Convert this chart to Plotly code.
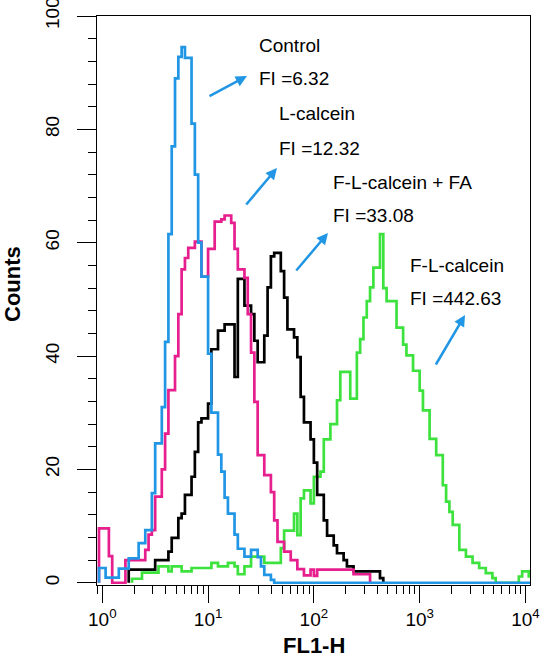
import plotly.graph_objects as go

# ---------------- data ----------------
BINS_PER_DECADE = 32          # histogram channels per decade of FL1-H

series_names = ["Control", "L-calcein", "F-L-calcein + FA", "F-L-calcein"]
fi_values = ["6.32", "12.32", "33.08", "442.63"]

# first channel index of each histogram (channel k starts at 10**(k/32))
control_start = -1
control_counts = [
    2.6, 2.6, 0.9, 0.9, 0.9, 0.9, 2.5, 2.5, 2.5, 4.3,
    4.3, 4.3, 7.0, 7.0, 9.3, 9.3, 15.8, 24.6, 24.6, 31.0,
    42.5, 61.5, 77.0, 89.0, 92.8, 94.5, 92.6, 92.6, 81.0, 72.0,
    60.0, 54.0, 54.0, 40.4, 30.0, 30.0, 22.6, 19.6, 15.0, 12.2,
    12.2, 8.5, 6.0, 6.0, 4.6, 4.6, 5.8, 5.8, 4.5, 2.9,
    1.4, 1.4, 0.5, 0, 0, 0, 0, 0, 0, 0,
    0, 0, 0, 0, 0, 0, 0, 0, 0, 0,
    0, 0, 0, 0, 0, 0, 0, 0, 0, 0,
    0, 0, 0, 0, 0, 0, 0, 0, 0, 0,
    0, 0, 0, 0, 0, 0, 0, 0, 0, 0,
    0, 0, 0, 0, 0, 0, 0, 0, 0, 0,
    0, 0, 0, 0, 0, 0, 0, 0, 0, 0,
    0, 0, 0, 0, 0, 0, 0, 0, 0, 0,
    0,
]

lcalcein_start = -1
lcalcein_counts = [
    9.6, 9.6, 9.6, 4.7, 0, 0, 0, 0, 4.0, 4.0,
    4.0, 4.0, 4.0, 4.0, 5.8, 8.5, 9.3, 15.2, 15.2, 20.0,
    26.3, 34.0, 34.0, 40.0, 47.4, 55.3, 57.3, 59.1, 59.1, 60.2,
    60.2, 54.0, 54.0, 58.9, 58.9, 63.7, 63.7, 64.1, 64.8, 64.8,
    63.5, 58.9, 55.3, 55.3, 53.8, 47.4, 40.6, 31.9, 22.5, 22.5,
    19.0, 19.0, 16.0, 11.0, 7.2, 7.2, 5.5, 5.5, 4.0, 4.0,
    2.4, 2.4, 1.3, 1.3, 2.3, 1.2, 2.3, 2.3, 2.3, 2.3,
    2.3, 2.3, 2.3, 2.3, 2.3, 2.3, 2.3, 1.5, 1.5, 1.5,
    1.5, 1.5,
]

flfa_start = 8
flfa_counts = [
    2.3, 2.3, 2.3, 2.3, 2.3, 2.3, 2.3, 2.3, 4.0, 4.0,
    4.0, 4.0, 5.5, 7.9, 7.9, 11.4, 12.2, 15.5, 15.5, 18.7,
    23.1, 28.3, 29.0, 29.0, 31.6, 41.2, 41.2, 44.5, 44.5, 45.6,
    45.6, 45.6, 36.3, 53.6, 53.6, 48.9, 48.9, 47.4, 42.7, 38.9,
    38.9, 43.6, 52.1, 57.6, 58.2, 58.2, 55.0, 50.3, 44.7, 44.7,
    43.3, 39.8, 32.8, 28.3, 28.3, 25.3, 21.2, 15.5, 15.5, 11.0,
    8.3, 8.3, 6.6, 5.2, 5.2, 4.0, 2.9, 2.9, 2.0, 2.0,
    2.0, 2.0, 2.0, 2.0, 2.0, 2.0, 0.8,
]

flcalcein_start = 9
flcalcein_counts = [
    0.7, 0.7, 0.7, 1.8, 1.8, 1.8, 1.8, 1.8, 2.9, 2.9,
    2.9, 2.0, 2.9, 2.9, 2.9, 2.0, 2.0, 2.0, 2.6, 2.6,
    2.6, 2.6, 2.6, 2.6, 3.5, 3.5, 2.9, 2.9, 2.9, 3.5,
    3.5, 2.9, 1.5, 1.5, 2.9, 2.9, 4.6, 4.6, 4.6, 4.6,
    3.5, 3.5, 3.5, 3.5, 3.5, 6.1, 9.2, 9.2, 9.2, 12.2,
    8.4, 14.9, 16.3, 16.3, 14.0, 18.7, 18.7, 19.6, 25.3, 25.3,
    28.0, 28.0, 32.2, 37.2, 37.2, 37.2, 32.5, 32.5, 40.6, 43.0,
    46.8, 49.7, 52.1, 55.6, 55.6, 61.5, 52.0, 49.7, 49.7, 49.7,
    45.0, 45.0, 42.0, 40.1, 40.1, 37.4, 37.4, 33.9, 30.4, 30.4,
    25.4, 25.4, 22.5, 22.5, 17.2, 14.3, 12.5, 10.2, 10.2, 5.8,
    5.8, 4.6, 4.6, 3.5, 3.5, 2.6, 2.6, 1.7, 1.7, 0.8,
    0, 0, 0, 0, 0, 0, 0, 1.1, 2.0, 2.0,
    1.1,
]

x_tick_values = [1, 10, 100, 1000, 10000]
x_tick_text = ["10<sup>0</sup>", "10<sup>1</sup>", "10<sup>2</sup>",
               "10<sup>3</sup>", "10<sup>4</sup>"]
y_tick_values = [0, 20, 40, 60, 80, 100]

# ---------------- styling ----------------
W, H = 540, 659
L, R, T, B = 97, 10, 16, 74
FONT = "Liberation Sans, Arial, Helvetica, sans-serif"
BLUE = "#2196E4"
PINK = "#E61E8E"
BLACK = "#000000"
GREEN = "#3EE23E"
LW = 2.7


def step_xy(start, counts):
    edges = [10 ** ((start + i) / BINS_PER_DECADE) for i in range(len(counts) + 1)]
    xs = [edges[0]] + edges[:-1] + [edges[-1]]
    ys = [0] + list(counts) + [0]
    return xs, ys


def px(x):
    return (x - L) / (W - L - R)


def py(y):
    return (H - B - y) / (H - T - B)


fig = go.Figure()
for start, counts, color, name in [
    (flcalcein_start, flcalcein_counts, GREEN, series_names[3]),
    (flfa_start, flfa_counts, BLACK, series_names[2]),
    (lcalcein_start, lcalcein_counts, PINK, series_names[1]),
    (control_start, control_counts, BLUE, series_names[0]),
]:
    xs, ys = step_xy(start, counts)
    fig.add_trace(go.Scatter(x=xs, y=ys, mode="lines", name=name,
                             line=dict(color=color, width=LW, shape="hv"),
                             showlegend=False, hoverinfo="skip"))

annotations = []
# label texts (left x, centre y in pixels)
text_pos = [(257, 46), (257, 79), (277, 114), (277, 148),
            (331, 182), (331, 215), (408, 265), (408, 298)]
texts = []
for name, fi in zip(series_names, fi_values):
    texts.append(name)
    texts.append("FI =" + fi)
for (tx, ty), t in zip(text_pos, texts):
    annotations.append(dict(x=px(tx), y=py(ty), xref="paper", yref="paper",
                            text=t, showarrow=False, xanchor="left",
                            yanchor="middle",
                            font=dict(family=FONT, size=19, color="black")))

# arrows: (tail x, tail y, head x, head y) in pixels
arrows = [(208, 97, 247, 76), (245, 206, 277, 168),
          (295, 272, 328, 233), (435, 366, 465, 315)]
for tx, ty, hx, hy in arrows:
    annotations.append(dict(x=px(hx), y=py(hy), xref="paper", yref="paper",
                            ax=tx - hx, ay=ty - hy, axref="pixel", ayref="pixel",
                            text="", showarrow=True, arrowhead=2, arrowsize=0.9,
                            arrowwidth=2.5, arrowcolor=BLUE, standoff=0))

annotations.append(dict(x=px(12), y=py(284), xref="paper", yref="paper",
                        text="<b>Counts</b>", showarrow=False, textangle=-90,
                        xanchor="center", yanchor="middle",
                        font=dict(family=FONT, size=22, color="black")))
annotations.append(dict(x=px(314), y=py(645), xref="paper", yref="paper",
                        text="<b>FL1-H</b>", showarrow=False,
                        xanchor="center", yanchor="middle",
                        font=dict(family=FONT, size=22, color="black")))

fig.update_layout(
    width=W, height=H,
    margin=dict(l=L, r=R, t=T, b=B, pad=0, autoexpand=False),
    paper_bgcolor="white", plot_bgcolor="white",
    font=dict(family=FONT, size=19, color="black"),
    annotations=annotations,
    xaxis=dict(type="log", range=[-0.05, 4.043], tickmode="array",
               tickvals=x_tick_values, ticktext=x_tick_text,
               ticks="outside", ticklen=17, tickwidth=1, tickcolor="black",
               showline=True, linecolor="black", linewidth=1, mirror=True,
               showgrid=False, zeroline=False, layer="below traces",
               ticklabeloverflow="allow", automargin=False,
               tickfont=dict(family=FONT, size=19, color="black"),
               minor=dict(ticks="outside", ticklen=8, tickwidth=1,
                          tickcolor="black", dtick="D1", showgrid=False)),
    yaxis=dict(range=[-0.4, 100], tickmode="array", tickvals=y_tick_values,
               ticks="outside", ticklen=19, tickwidth=1, tickcolor="black",
               tickangle=-90, ticklabelstandoff=10, ticklabeloverflow="allow",
               automargin=False,
               showline=True, linecolor="black", linewidth=1, mirror=True,
               showgrid=False, zeroline=False, layer="below traces",
               tickfont=dict(family=FONT, size=19, color="black"),
               minor=dict(ticks="outside", ticklen=8, tickwidth=1,
                          tickcolor="black", tick0=0, dtick=4, showgrid=False)),
)

fig.write_html("out.html", config={"displayModeBar": False})

# remove the browser's default page margin so the figure sits at (0, 0)
with open("out.html", "r", encoding="utf-8") as f:
    page = f.read()
page = page.replace(
    "<head>",
    "<head><style>html,body{margin:0;padding:0;overflow:hidden;}</style>", 1)
with open("out.html", "w", encoding="utf-8") as f:
    f.write(page)
